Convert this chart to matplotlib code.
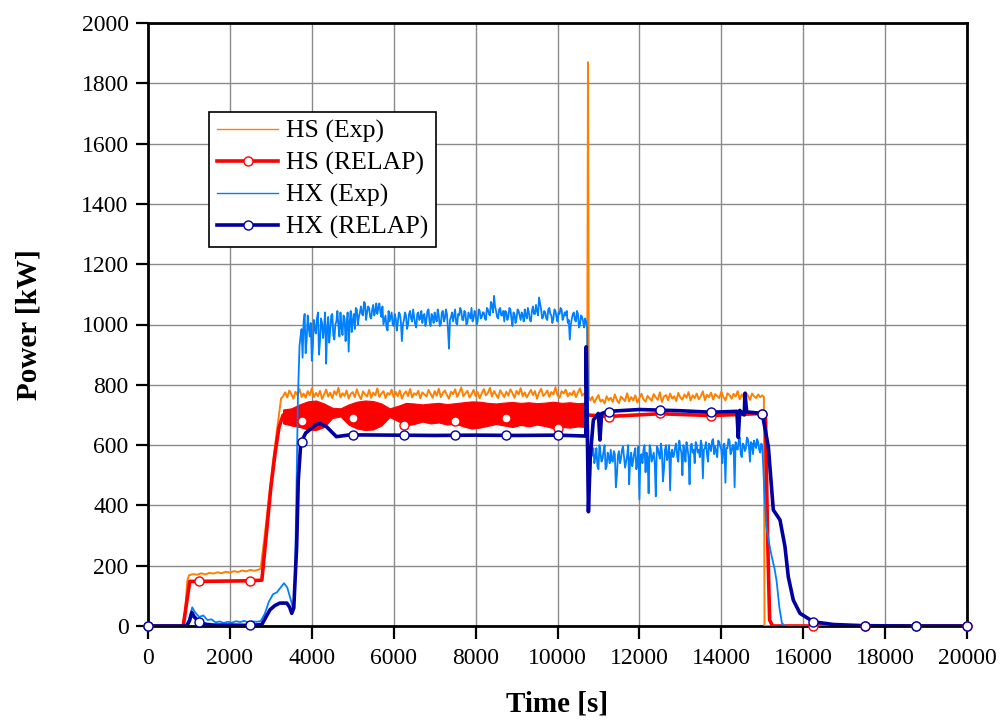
import numpy as np
import matplotlib
matplotlib.use("Agg")
import matplotlib.pyplot as plt
from matplotlib.lines import Line2D

plt.rcParams['font.family'] = ['Liberation Serif', 'DejaVu Serif']

# ---- HS (Exp) ----
hs_exp_t_a = [0, 880, 960, 1000, 1100, 1200, 1300, 1400, 1500, 1600, 1700, 1800, 1900, 2000,
              2100, 2200, 2300, 2400, 2500, 2600, 2700, 2750, 2850, 2950, 3050, 3150, 3250]
hs_exp_v_a = [0, 0, 150, 168, 172, 170, 175, 171, 176, 174, 178, 175, 180, 177,
              182, 179, 184, 181, 186, 183, 187, 190, 300, 420, 540, 650, 755]
hs_exp_v_b = [762, 775, 758, 781, 769, 754, 777, 766, 786, 760,
              771, 757, 779, 765, 788, 759, 773, 762, 780, 753,
              768, 784, 761, 774, 756, 779, 767, 790, 758, 772,
              763, 781, 755, 770, 776, 759, 785, 766, 752, 778,
              769, 761, 783, 757, 774, 765, 788, 760, 771, 779,
              756, 773, 767, 784, 759, 776, 762, 781, 754, 770,
              778, 763, 786, 758, 772, 766, 780, 755, 775, 768,
              761, 783, 770, 757, 779, 764, 787, 759, 773, 781,
              766, 754, 777, 769, 785, 760, 774, 791, 762, 771,
              780, 758, 768, 783, 763, 776, 755, 772, 786, 765,
              773, 790, 761, 779, 767, 756, 782, 770, 759, 777,
              764, 785, 772, 757, 780, 768, 789, 762, 775, 758,
              771, 783, 766, 779, 754, 774, 787, 763, 770, 781,
              760, 776, 768, 792, 765, 757, 779, 771, 784, 762,
              773, 766, 780, 759, 775, 788, 764, 770, 778]
hs_exp_t_spike = [10725, 10745, 10765]
hs_exp_v_spike = [780, 1870, 760]
hs_exp_v_c = [748, 760, 741, 755, 766, 744, 751, 738, 762, 749,
              757, 743, 768, 750, 739, 761, 754, 746, 772, 745,
              759, 748, 765, 741, 756, 770, 752, 744, 763, 755,
              747, 769, 758, 750, 775, 743, 761, 766, 749, 771,
              754, 762, 746, 773, 758, 751, 768, 757, 776, 748,
              765, 756, 771, 752, 762, 778, 749, 767, 759, 774,
              751, 769, 763, 756, 777, 760, 748, 772, 766, 754,
              770, 761, 779, 752, 768, 757, 775, 764, 750, 771,
              762, 756, 768, 759, 765]
hs_exp_t_end = [15040, 15055, 20000]
hs_exp_v_end = [760, 0, 0]

# ---- HS (RELAP) ----
hs_rel_t = [0, 860, 1020, 1250, 2500, 2780, 2900, 3000, 3100, 3200, 3300,
            10700, 10720, 11250, 12500, 13750, 14500, 15000, 15080, 15130, 15180, 15250, 20000]
hs_rel_v = [0, 0, 148, 148, 150, 152, 320, 460, 570, 660, 700,
            700, 700, 695, 704, 698, 702, 705, 690, 300, 20, 0, 0]
hs_band_t = np.arange(3300, 10701, 200)
hs_band_hi = [718, 722, 735, 745, 748, 738, 724, 722, 735, 744, 748, 746, 738, 722, 730, 740,
              738, 735, 738, 740, 736, 739, 742, 745, 744, 740, 738, 741, 743, 740, 742, 739,
              741, 744, 740, 742, 739, 741]
hs_band_lo = [672, 665, 660, 652, 650, 660, 690, 695, 668, 655, 650, 652, 665, 693, 680, 665,
              670, 678, 672, 675, 668, 672, 662, 655, 658, 664, 670, 665, 660, 667, 662, 668,
              663, 656, 660, 658, 662, 660]
hs_mark_t = [0, 1250, 2500, 3750, 5000, 6250, 7500, 8750, 10000, 11250, 12500, 13750, 15000,
             16250, 17500, 18750, 20000]
hs_mark_v = [0, 148, 150, 680, 689, 667, 680, 689, 658, 694, 705, 697, 703, 0, 0, 0, 0]

# ---- HX (Exp) ----
hx_exp_t_a = [0, 900, 1000, 1080, 1150, 1250, 1350, 1450, 1550, 1650, 1750, 1850, 1950, 2050,
              2150, 2250, 2350, 2450, 2550, 2650, 2750, 2850, 2950, 3050, 3150, 3250, 3320,
              3400, 3480, 3540, 3580, 3620, 3660]
hx_exp_v_a = [0, 0, 20, 62, 45, 30, 35, 20, 22, 12, 15, 10, 14, 11,
              16, 13, 17, 12, 15, 14, 16, 40, 80, 105, 112, 130, 142,
              128, 90, 60, 100, 400, 750]
# samples every 50 s from 3700 s
hx_exp_v_b = [930, 985, 1010, 905, 1030, 960, 880, 1015, 970, 1040,
              945, 1005, 990, 870, 1025, 980, 1035, 950, 1010, 995,
              1040, 965, 1020, 1000, 910, 1045, 1015, 985, 1050, 1025,
              1060, 1030, 1070, 1040, 1055, 1020, 1065, 1045, 1035, 1070,
              1025, 1000, 1030, 980, 1010, 1040, 995, 1020, 1005, 1035,
              945, 1015, 1030, 1000, 1045, 1010, 1025, 990, 1040, 1020,
              1005, 1035, 1015, 1050, 995, 1025, 1040, 1010, 1030, 1000,
              1045, 1020, 1035, 920, 1025, 1010, 1050, 1000, 1030, 1045,
              1015, 1040, 1005, 1030, 1055, 1020, 1035, 1010, 1045, 1025,
              1040, 1015, 1050, 1030, 1065, 1095, 1045, 1020, 1055, 1030,
              1010, 1040, 1025, 1050, 995, 1035, 1020, 1045, 1015, 1030,
              1050, 1020, 1040, 1010, 1060, 1035, 1045, 1090, 1050, 1025,
              1040, 1015, 1055, 1030, 1020, 1045, 1010, 1035, 1050, 1025,
              1030, 1005, 950, 1020, 1040, 1010, 1035, 1000, 1025, 990,
              1010]
# in-between samples (3725, 3775, ...)
hx_exp_v_b2 = [960, 890, 1035, 950, 990, 1005, 925, 985, 1020, 900,
               1020, 955, 1040, 985, 940, 1030, 965, 1000, 1045, 960,
               990, 1030, 945, 1040, 1010, 975, 1035, 1055, 1000, 1040,
               1035, 1075, 1015, 1060, 1025, 1050, 1030, 1070, 1055, 1040,
               1060, 1015, 990, 1045, 1025, 1000, 1035, 980, 1040, 1010,
               1000, 1040, 985, 1035, 1020, 1050, 1000, 1035, 1015, 1045,
               1030, 995, 1045, 1010, 1035, 1005, 1020, 1050, 995, 1040,
               1010, 1050, 985, 1015, 1040, 1030, 1005, 1035, 1055, 1015,
               1045, 1000, 1040, 1020, 1010, 1045, 1000, 1050, 1020, 1040,
               1020, 1055, 1035, 1075, 1040, 1060, 1025, 1050, 1030, 1045,
               1045, 1015, 1055, 1020, 1040, 1005, 1050, 1030, 1040, 1010,
               1030, 1055, 1015, 1045, 1035, 1065, 1030, 1070, 1020, 1045,
               1020, 1050, 1035, 1005, 1050, 1025, 1040, 1055, 1015, 1040,
               1045, 1015, 1000, 1035, 1015, 1045, 990, 1030, 1010, 1020]
hx_exp_t_drop = [10725, 10760, 10790, 10820]
hx_exp_v_drop = [990, 560, 470, 600]
# samples every 50 s from 10850 s
hx_exp_v_c = [565, 540, 590, 520, 575, 555, 600, 530, 560, 585,
              545, 570, 500, 580, 555, 595, 525, 565, 470, 575,
              550, 590, 540, 420, 570, 585, 510, 560, 600, 545,
              575, 430, 590, 555, 580, 520, 600, 565, 450, 585,
              570, 605, 545, 590, 500, 580, 610, 560, 595, 575,
              540, 600, 585, 615, 490, 590, 570, 605, 580, 620,
              595, 560, 610, 585, 600, 475, 590, 615, 580, 600,
              610, 585, 625, 560, 600, 590, 620, 545, 605, 615,
              590, 610, 575, 600]
# in-between samples (10875, 10925, ...)
hx_exp_v_c2 = [590, 560, 530, 600, 545, 580, 520, 575, 540, 550,
               580, 460, 565, 540, 585, 560, 545, 600, 555, 530,
               575, 520, 595, 565, 540, 600, 575, 440, 585, 560,
               540, 595, 570, 605, 480, 585, 550, 600, 575, 560,
               595, 560, 615, 575, 600, 545, 590, 470, 605, 585,
               610, 575, 560, 600, 585, 610, 545, 595, 615, 570,
               580, 615, 595, 540, 605, 590, 620, 570, 600, 460,
               590, 615, 570, 605, 580, 625, 595, 610, 570, 600,
               620, 585, 605]
hx_exp_t_end = [15050, 15100, 15200, 15300, 15350, 15420, 15480, 15550, 20000]
hx_exp_v_end = [450, 330, 250, 190, 150, 60, 10, 0, 0]

# ---- HX (RELAP) ----
hx_rel_t = [0, 950, 1020, 1070, 1130, 1250, 1400, 1600, 2000, 2500, 2780, 2880, 2980, 3100,
            3220, 3390, 3460, 3510, 3560, 3630, 3670, 3730, 3850, 3960, 4100, 4200, 4360,
            4600, 4930, 6000, 7000, 8000, 9000, 10000, 10690, 10700, 10755, 10800, 10875,
            10997, 11037, 11078, 11250, 12000, 12500, 13000, 13750, 14380, 14415, 14450,
            14560, 14578, 14620, 15000, 15149, 15270, 15433, 15555, 15636, 15758, 15921,
            16250, 16736, 17500, 18750, 20000]
hx_rel_v = [0, 0, 20, 45, 30, 14, 6, 3, 3, 2, 5, 30, 54, 68,
            76, 76, 62, 42, 60, 263, 484, 606, 640, 652, 668, 672, 661,
            628, 634, 633, 632, 633, 632, 633, 630, 926, 379, 560, 683,
            705, 617, 705, 712, 718, 716, 714, 709, 712, 625, 715,
            700, 772, 710, 705, 594, 385, 352, 263, 163, 86, 42,
            14, 5, 1, 0, 0]
hx_mark_t = [0, 1250, 2500, 3750, 5000, 6250, 7500, 8750, 10000, 11250, 12500, 13750, 15000,
             16250, 17500, 18750, 20000]
hx_mark_v = [0, 14, 2, 610, 633, 633, 633, 633, 633, 711, 716, 709, 703, 14, 1, 0, 0]

c_hs_exp = '#FF8000'
c_hs_rel = '#FF0000'
c_hx_exp = '#0080FF'
c_hx_rel = '#0000A0'


def merge(t1, v1, t2, v2):
    t = np.concatenate([t1, t2])
    v = np.concatenate([v1, v2])
    order = np.argsort(t, kind='stable')
    return t[order], v[order]


hs_exp_t = np.concatenate([hs_exp_t_a, np.arange(3300, 10701, 50), hs_exp_t_spike,
                           np.arange(10800, 15001, 50), hs_exp_t_end])
hs_exp_v = np.concatenate([hs_exp_v_a, hs_exp_v_b, hs_exp_v_spike, hs_exp_v_c, hs_exp_v_end])

pl1_t, pl1_v = merge(np.arange(3700, 10701, 50), hx_exp_v_b,
                     np.arange(3725, 10700, 50), hx_exp_v_b2)
pl2_t, pl2_v = merge(np.arange(10850, 15001, 50), hx_exp_v_c,
                     np.arange(10875, 15000, 50), hx_exp_v_c2)
hx_exp_t = np.concatenate([hx_exp_t_a, pl1_t, hx_exp_t_drop, pl2_t, hx_exp_t_end])
hx_exp_v = np.concatenate([hx_exp_v_a, pl1_v, hx_exp_v_drop, pl2_v, hx_exp_v_end])

fig = plt.figure(figsize=(10.02, 7.2), dpi=100)
ax = fig.add_axes([148 / 1002, 94 / 720, 819 / 1002, 603 / 720])

ax.plot(hs_exp_t, hs_exp_v, color=c_hs_exp, lw=1.4, zorder=3)
ax.fill_between(hs_band_t, hs_band_lo, hs_band_hi, color=c_hs_rel, lw=0.8, zorder=4)
ax.plot(hs_rel_t, hs_rel_v, color=c_hs_rel, lw=2.6, zorder=4)
ax.plot(hs_mark_t, hs_mark_v, 'o', ms=6.5, mfc='white', mec=c_hs_rel, mew=1.0, zorder=7, clip_on=False)
ax.plot(hx_exp_t, hx_exp_v, color=c_hx_exp, lw=1.3, zorder=5)
ax.plot(hx_rel_t, hx_rel_v, color=c_hx_rel, lw=2.6, zorder=6)
ax.plot(hx_mark_t, hx_mark_v, 'o', ms=6.5, mfc='white', mec=c_hx_rel, mew=1.0, zorder=8, clip_on=False)

ax.set_xlim(0, 20000)
ax.set_ylim(0, 2000)
ax.set_xticks(np.arange(0, 20001, 2000))
ax.set_yticks(np.arange(0, 2001, 200))
ax.grid(True, color='#8a8a8a', lw=1.0)
ax.set_axisbelow(True)
for s in ax.spines.values():
    s.set_linewidth(2.0)
ax.tick_params(direction='out', length=9, width=1.6, labelsize=17, pad=5)
ax.tick_params(axis='x', pad=7)
ax.set_xlabel('Time [s]', fontsize=21, fontweight='bold', labelpad=15)
ax.set_ylabel('Power [kW]', fontsize=21, fontweight='bold', labelpad=28)

handles = [Line2D([], [], color=c_hs_exp, lw=1.0),
           Line2D([], [], color=c_hs_rel, lw=2.6, marker='o', ms=6.5, mfc='white', mec=c_hs_rel),
           Line2D([], [], color=c_hx_exp, lw=1.0),
           Line2D([], [], color=c_hx_rel, lw=2.6, marker='o', ms=6.5, mfc='white', mec=c_hx_rel)]
labels = ['HS (Exp)', 'HS (RELAP)', 'HX (Exp)', 'HX (RELAP)']
leg = ax.legend(handles, labels, loc='upper left', bbox_to_anchor=(0.0745, 0.852),
                borderaxespad=0, fontsize=18.5, frameon=True, fancybox=False,
                edgecolor='black', framealpha=1, handlelength=2.4, handletextpad=0.3,
                labelspacing=0.33, borderpad=0.3, numpoints=1)
leg.get_frame().set_linewidth(1.2)
leg.set_zorder(10)

fig.savefig('out.png', dpi=100)
